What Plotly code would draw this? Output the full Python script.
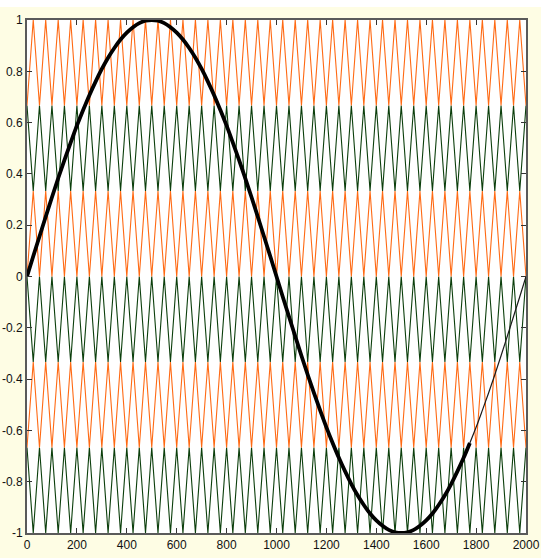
import plotly.graph_objects as go

# ---- data ----
# modulating sine, sampled every 25 units (x = 0 .. 2000)
sine_x = list(range(0, 2001, 25))
sine_y = [
    0.000, 0.079, 0.156, 0.233, 0.309, 0.383, 0.454, 0.522, 0.588, 0.649,
    0.707, 0.760, 0.809, 0.853, 0.891, 0.924, 0.951, 0.972, 0.988, 0.997,
    1.000, 0.997, 0.988, 0.972, 0.951, 0.924, 0.891, 0.853, 0.809, 0.760,
    0.707, 0.649, 0.588, 0.522, 0.454, 0.383, 0.309, 0.233, 0.156, 0.079,
    0.000, -0.079, -0.156, -0.233, -0.309, -0.383, -0.454, -0.522, -0.588, -0.649,
    -0.707, -0.760, -0.809, -0.853, -0.891, -0.924, -0.951, -0.972, -0.988, -0.997,
    -1.000, -0.997, -0.988, -0.972, -0.951, -0.924, -0.891, -0.853, -0.809, -0.760,
    -0.707, -0.649, -0.588, -0.522, -0.454, -0.383, -0.309, -0.233, -0.156, -0.079,
    0.000,
]
thick_end_x = 1775  # sine drawn bold up to here, thin afterwards

# triangular carriers: vertex positions (half period = 25)
carrier_x = list(range(0, 2001, 25))
# carrier bands (low, high); orange bands start low at x=0, green start high
orange_bands = [(2 / 3, 1.0), (0.0, 1 / 3), (-2 / 3, -1 / 3)]
green_bands = [(1 / 3, 2 / 3), (-1 / 3, 0.0), (-1.0, -2 / 3)]

x_ticks = [0, 200, 400, 600, 800, 1000, 1200, 1400, 1600, 1800, 2000]
y_ticks = [-1, -0.8, -0.6, -0.4, -0.2, 0, 0.2, 0.4, 0.6, 0.8, 1]
y_tick_text = ["-1", "-0.8", "-0.6", "-0.4", "-0.2", "0", "0.2", "0.4", "0.6", "0.8", "1"]

ORANGE = "#ff6a14"
GREEN = "#0c3f0c"
PAPER = "#fefde4"

fig = go.Figure()


def carrier(low, high, start_low):
    ys = []
    for i, _ in enumerate(carrier_x):
        at_low = (i % 2 == 0) == start_low
        ys.append(low if at_low else high)
    return ys


for lo, hi in green_bands:
    fig.add_trace(go.Scatter(x=carrier_x, y=carrier(lo, hi, False), mode="lines",
                             line=dict(color=GREEN, width=1.1), hoverinfo="skip"))
for lo, hi in orange_bands:
    fig.add_trace(go.Scatter(x=carrier_x, y=carrier(lo, hi, True), mode="lines",
                             line=dict(color=ORANGE, width=1.1), hoverinfo="skip"))

thick_x = [x for x in sine_x if x <= thick_end_x]
thick_y = sine_y[:len(thick_x)]
thin_x = sine_x[len(thick_x) - 1:]
thin_y = sine_y[len(thick_x) - 1:]

fig.add_trace(go.Scatter(x=thin_x, y=thin_y, mode="lines", line_shape="spline",
                         line=dict(color="#1a1a1a", width=1.2)))
fig.add_trace(go.Scatter(x=thick_x, y=thick_y, mode="lines", line_shape="spline",
                         line=dict(color="#000000", width=3.8)))

axis_common = dict(
    showgrid=False, zeroline=False, showline=True, linecolor="#5a5a5a", linewidth=2,
    mirror="ticks", ticks="inside", ticklen=5, tickwidth=1, tickcolor="#333333",
    automargin=False,
    tickfont=dict(family="Liberation Sans Narrow, Arial Narrow, Liberation Sans, Arial",
                  size=12, color="#111111"),
)

fig.update_layout(
    width=541, height=558,
    margin=dict(l=27, r=15, t=20, b=25),
    paper_bgcolor=PAPER,
    plot_bgcolor="#ffffff",
    showlegend=False,
    xaxis=dict(range=[0, 2000], tickvals=x_ticks, **axis_common),
    yaxis=dict(range=[-1, 1], tickvals=y_ticks, ticktext=y_tick_text, **axis_common),
    shapes=[dict(type="rect", xref="paper", yref="paper", x0=-0.2, x1=1.2,
                 y0=1 + 13 / 513, y1=1.1, fillcolor="#ffffff", line=dict(width=0),
                 layer="above")],
)

fig.write_html(
    "out.html",
    config={"displayModeBar": False},
    post_script="document.body.style.margin='0';document.body.style.background='%s';" % PAPER,
)
